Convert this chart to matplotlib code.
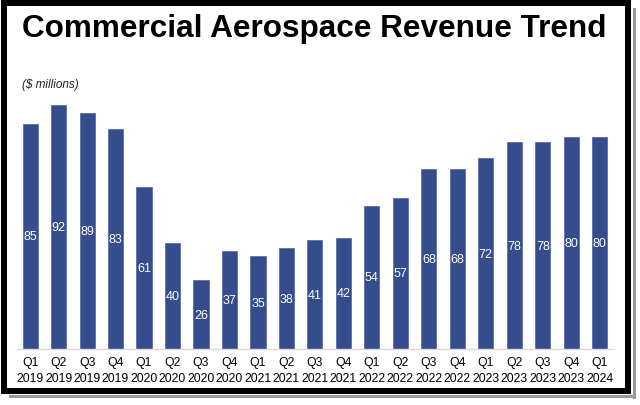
import matplotlib
matplotlib.use("Agg")
import matplotlib.pyplot as plt
from matplotlib.patches import Rectangle
from matplotlib.lines import Line2D

quarters = ["Q1", "Q2", "Q3", "Q4"] * 5 + ["Q1"]
years = ["2019"] * 4 + ["2020"] * 4 + ["2021"] * 4 + ["2022"] * 4 + ["2023"] * 4 + ["2024"]
values = [85, 92, 89, 83, 61, 40, 26, 37, 35, 38, 41, 42, 54, 57, 68, 68, 72, 78, 78, 80, 80]
labels = [f"{q}\n{y}" for q, y in zip(quarters, years)]

plt.rcParams['font.family'] = ['Liberation Sans', 'DejaVu Sans']

W, H = 640, 406
fig = plt.figure(figsize=(6.4, 4.06), dpi=100)
fig.patch.set_facecolor('white')

# axes placement in pixels
left, right, top, bottom = 17, 614, 85, 350
ax = fig.add_axes([left / W, 1 - bottom / H, (right - left) / W, (bottom - top) / H])

x = list(range(len(values)))
bars = ax.bar(x, values, width=0.53, color='#354C8D', edgecolor='#5F6FA6', linewidth=0.6)
for xi, v in zip(x, values):
    ax.text(xi, v / 2, str(v), ha='center', va='center', color='white', fontsize=9)

ax.set_xlim(-0.46, 20.5)
ax.set_ylim(0, 100)
ax.set_xticks(x)
ax.set_xticklabels(labels, fontsize=8.8, linespacing=1.5)
ax.tick_params(axis='x', length=0, pad=5)
ax.set_yticks([])
for s in ['top', 'right', 'left']:
    ax.spines[s].set_visible(False)
ax.spines['bottom'].set_color('#D9D9D9')
ax.spines['bottom'].set_linewidth(1)

fig.text(22 / W, 1 - 29 / H, "Commercial Aerospace Revenue Trend", fontsize=22.7,
         fontweight='bold', ha='left', va='center', color='black')
fig.text(22 / W, 1 - 85 / H, "($ millions)", fontsize=8.5, style='italic',
         ha='left', va='center', color='#222222')

# frame with shadow
lw_pt = 6 * 72 / 100
shadow = '#9A9A9A'
fig.add_artist(Line2D([634 / W, 634 / W], [1 - 10 / H, 1 - 398 / H], color=shadow,
                      linewidth=3 * 72 / 100, transform=fig.transFigure))
fig.add_artist(Line2D([10 / W, 634 / W], [1 - 397 / H, 1 - 397 / H], color=shadow,
                      linewidth=3 * 72 / 100, transform=fig.transFigure))
fig.add_artist(Rectangle((4 / W, 1 - 392 / H), 624 / W, 388 / H, fill=False,
                         edgecolor='black', linewidth=lw_pt, transform=fig.transFigure,
                         joinstyle='miter'))

fig.savefig("out.png", dpi=100, facecolor='white')
